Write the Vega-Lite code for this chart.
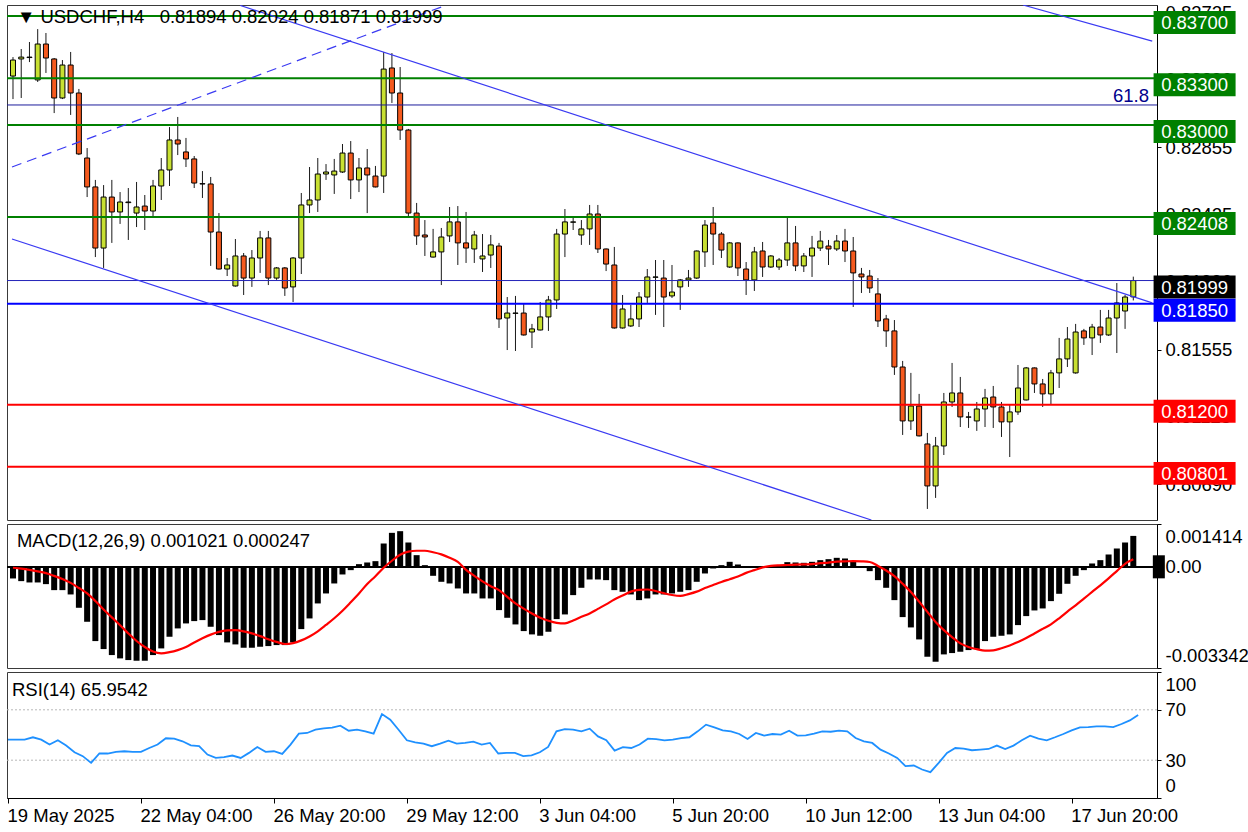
{
"$schema": "https://vega.github.io/schema/vega-lite/v6.json",
"padding": {"left": 3, "top": 2, "right": 0, "bottom": 0},
"background": "white",
"spacing": 2,
"config": {
  "view": {"stroke": "#3a3a3a", "strokeWidth": 1},
  "font": "Liberation Sans",
  "axis": {"labelFont": "Liberation Sans", "labelFontSize": 18.5, "labelColor": "#000000", "domainColor": "#000000", "tickColor": "#000000", "grid": false, "tickSize": 4, "labelPadding": 4, "labelOverlap": false}
},
"datasets": {
"bars": [
{"k":0,"o":0.83314,"h":0.83436,"l":0.83166,"c":0.83417,"m":-0.000385,"s":-0.00003,"r":46.3},
{"k":1,"o":0.83424,"h":0.83488,"l":0.83173,"c":0.83436,"m":-0.000473,"s":-0.00006,"r":46.3},
{"k":2,"o":0.83433,"h":0.83533,"l":0.83404,"c":0.83436,"m":-0.000517,"s":-0.0001,"r":46.3},
{"k":3,"o":0.83289,"h":0.83616,"l":0.83276,"c":0.8352,"m":-0.000517,"s":-0.00015,"r":48.2},
{"k":4,"o":0.8352,"h":0.83591,"l":0.83334,"c":0.8343,"m":-0.000572,"s":-0.00021,"r":46.3},
{"k":5,"o":0.83424,"h":0.8343,"l":0.83076,"c":0.83173,"m":-0.00077,"s":-0.0003,"r":42.4},
{"k":6,"o":0.83173,"h":0.83417,"l":0.83166,"c":0.83385,"m":-0.00077,"s":-0.0004,"r":45.8},
{"k":7,"o":0.83385,"h":0.83469,"l":0.83064,"c":0.83205,"m":-0.000913,"s":-0.00053,"r":41.6},
{"k":8,"o":0.83205,"h":0.83231,"l":0.82806,"c":0.82813,"m":-0.001353,"s":-0.0007,"r":36.3},
{"k":9,"o":0.82787,"h":0.82851,"l":0.82536,"c":0.82601,"m":-0.001815,"s":-0.00088,"r":33.2},
{"k":10,"o":0.82601,"h":0.82646,"l":0.8215,"c":0.82208,"m":-0.002453,"s":-0.00113,"r":27.9},
{"k":11,"o":0.82208,"h":0.82613,"l":0.8208,"c":0.82536,"m":-0.002717,"s":-0.00141,"r":35.3},
{"k":12,"o":0.82536,"h":0.82646,"l":0.82241,"c":0.8244,"m":-0.002915,"s":-0.00167,"r":35.3},
{"k":13,"o":0.8244,"h":0.82568,"l":0.82363,"c":0.82504,"m":-0.003025,"s":-0.00193,"r":36.6},
{"k":14,"o":0.825,"h":0.82594,"l":0.8226,"c":0.82504,"m":-0.00308,"s":-0.0022,"r":37.1},
{"k":15,"o":0.82433,"h":0.82633,"l":0.82343,"c":0.82472,"m":-0.003102,"s":-0.00245,"r":36.6},
{"k":16,"o":0.82478,"h":0.82549,"l":0.82324,"c":0.82446,"m":-0.003102,"s":-0.00265,"r":36.6},
{"k":17,"o":0.82446,"h":0.82646,"l":0.82408,"c":0.82607,"m":-0.002915,"s":-0.0028,"r":39.7},
{"k":18,"o":0.82607,"h":0.82787,"l":0.82517,"c":0.8271,"m":-0.002695,"s":-0.00286,"r":42.4},
{"k":19,"o":0.8271,"h":0.82986,"l":0.82607,"c":0.82903,"m":-0.00231,"s":-0.00282,"r":47.4},
{"k":20,"o":0.82903,"h":0.83051,"l":0.82806,"c":0.82877,"m":-0.002035,"s":-0.00275,"r":47.1},
{"k":21,"o":0.82826,"h":0.82916,"l":0.82729,"c":0.82781,"m":-0.00187,"s":-0.00265,"r":45},
{"k":22,"o":0.82781,"h":0.828,"l":0.82594,"c":0.82626,"m":-0.001793,"s":-0.0025,"r":41.8},
{"k":23,"o":0.82622,"h":0.82703,"l":0.8253,"c":0.8262,"m":-0.00176,"s":-0.00236,"r":41.1},
{"k":24,"o":0.8262,"h":0.82665,"l":0.82093,"c":0.82311,"m":-0.00198,"s":-0.00224,"r":34.5},
{"k":25,"o":0.82311,"h":0.82433,"l":0.8207,"c":0.82073,"m":-0.002255,"s":-0.00215,"r":31.8},
{"k":26,"o":0.82073,"h":0.82144,"l":0.82028,"c":0.82099,"m":-0.002497,"s":-0.0021,"r":32.4},
{"k":27,"o":0.81964,"h":0.82266,"l":0.8196,"c":0.82157,"m":-0.002563,"s":-0.00209,"r":33.7},
{"k":28,"o":0.82157,"h":0.82176,"l":0.81906,"c":0.82015,"m":-0.002673,"s":-0.00213,"r":31.8},
{"k":29,"o":0.82015,"h":0.82195,"l":0.81958,"c":0.82144,"m":-0.002673,"s":-0.0022,"r":35.8},
{"k":30,"o":0.82144,"h":0.82318,"l":0.82048,"c":0.82273,"m":-0.00264,"s":-0.00229,"r":40.5},
{"k":31,"o":0.82273,"h":0.82318,"l":0.8197,"c":0.82015,"m":-0.002618,"s":-0.00239,"r":36.6},
{"k":32,"o":0.82015,"h":0.82086,"l":0.82003,"c":0.8208,"m":-0.002585,"s":-0.00248,"r":37.1},
{"k":33,"o":0.8208,"h":0.82086,"l":0.819,"c":0.81951,"m":-0.002585,"s":-0.00255,"r":35},
{"k":34,"o":0.81958,"h":0.8215,"l":0.81861,"c":0.82144,"m":-0.002497,"s":-0.00252,"r":42.4},
{"k":35,"o":0.82144,"h":0.82562,"l":0.82041,"c":0.82485,"m":-0.002057,"s":-0.00243,"r":51.1},
{"k":36,"o":0.82485,"h":0.82729,"l":0.82433,"c":0.82517,"m":-0.001705,"s":-0.0023,"r":51.6},
{"k":37,"o":0.82517,"h":0.82787,"l":0.8244,"c":0.82684,"m":-0.00121,"s":-0.00213,"r":54.2},
{"k":38,"o":0.82684,"h":0.82748,"l":0.82646,"c":0.82697,"m":-0.00088,"s":-0.00192,"r":55.3},
{"k":39,"o":0.82678,"h":0.82781,"l":0.82556,"c":0.82703,"m":-0.00055,"s":-0.0017,"r":55.8},
{"k":40,"o":0.82697,"h":0.82877,"l":0.82691,"c":0.82819,"m":-0.000253,"s":-0.00145,"r":57.4},
{"k":41,"o":0.82819,"h":0.82896,"l":0.82523,"c":0.82646,"m":-0.00011,"s":-0.00117,"r":53.4},
{"k":42,"o":0.82646,"h":0.82787,"l":0.82568,"c":0.82723,"m":0.000088,"s":-0.00088,"r":54.2},
{"k":43,"o":0.82723,"h":0.82845,"l":0.82433,"c":0.82678,"m":0.000143,"s":-0.00057,"r":52.9},
{"k":44,"o":0.82671,"h":0.82736,"l":0.82598,"c":0.82601,"m":0.000187,"s":-0.00031,"r":51.1},
{"k":45,"o":0.82671,"h":0.83469,"l":0.82562,"c":0.83359,"m":0.00077,"s":-0.00003,"r":66.6},
{"k":46,"o":0.83366,"h":0.83462,"l":0.83141,"c":0.83205,"m":0.001122,"s":0.0002,"r":62.1},
{"k":47,"o":0.83205,"h":0.83372,"l":0.82903,"c":0.82967,"m":0.001177,"s":0.0004,"r":54.2},
{"k":48,"o":0.82967,"h":0.82974,"l":0.82408,"c":0.82433,"m":0.000803,"s":0.0005,"r":45.8},
{"k":49,"o":0.82433,"h":0.82498,"l":0.82228,"c":0.82286,"m":0.000385,"s":0.00053,"r":44.2},
{"k":50,"o":0.82292,"h":0.82388,"l":0.82157,"c":0.82279,"m":0.000055,"s":0.00053,"r":43.2},
{"k":51,"o":0.8215,"h":0.82331,"l":0.82147,"c":0.82183,"m":-0.000297,"s":0.00048,"r":41.1},
{"k":52,"o":0.82183,"h":0.82337,"l":0.8197,"c":0.82279,"m":-0.000495,"s":0.00041,"r":43.2},
{"k":53,"o":0.82286,"h":0.82472,"l":0.82247,"c":0.82376,"m":-0.00055,"s":0.0003,"r":45.5},
{"k":54,"o":0.82376,"h":0.82478,"l":0.82099,"c":0.82241,"m":-0.000715,"s":0.00016,"r":43.2},
{"k":55,"o":0.82241,"h":0.8244,"l":0.82112,"c":0.82208,"m":-0.00088,"s":-0.0001,"r":43.7},
{"k":56,"o":0.82202,"h":0.82318,"l":0.82112,"c":0.82292,"m":-0.00088,"s":-0.0003,"r":44.7},
{"k":57,"o":0.82138,"h":0.82298,"l":0.82054,"c":0.82157,"m":-0.001045,"s":-0.00048,"r":42.4},
{"k":58,"o":0.82163,"h":0.82292,"l":0.8208,"c":0.82228,"m":-0.001045,"s":-0.00064,"r":43.7},
{"k":59,"o":0.82221,"h":0.82241,"l":0.81694,"c":0.81752,"m":-0.00143,"s":-0.00077,"r":35.3},
{"k":60,"o":0.81758,"h":0.81893,"l":0.81552,"c":0.8179,"m":-0.001683,"s":-0.00099,"r":35.8},
{"k":61,"o":0.81788,"h":0.819,"l":0.81546,"c":0.8179,"m":-0.001903,"s":-0.00121,"r":35.8},
{"k":62,"o":0.8179,"h":0.81848,"l":0.81645,"c":0.81649,"m":-0.002123,"s":-0.00138,"r":33.2},
{"k":63,"o":0.81668,"h":0.8172,"l":0.81565,"c":0.81688,"m":-0.002233,"s":-0.00154,"r":33.9},
{"k":64,"o":0.81681,"h":0.81861,"l":0.81678,"c":0.81765,"m":-0.002277,"s":-0.00168,"r":36.3},
{"k":65,"o":0.81765,"h":0.819,"l":0.81675,"c":0.81874,"m":-0.002145,"s":-0.00178,"r":40.5},
{"k":66,"o":0.81874,"h":0.82331,"l":0.81816,"c":0.82298,"m":-0.001727,"s":-0.00185,"r":52.9},
{"k":67,"o":0.82298,"h":0.82459,"l":0.8215,"c":0.82376,"m":-0.001573,"s":-0.00187,"r":54.7},
{"k":68,"o":0.82374,"h":0.82408,"l":0.82324,"c":0.82376,"m":-0.000935,"s":-0.00177,"r":54.2},
{"k":69,"o":0.82292,"h":0.82388,"l":0.82228,"c":0.82331,"m":-0.000693,"s":-0.00165,"r":52.9},
{"k":70,"o":0.82331,"h":0.82485,"l":0.82228,"c":0.82427,"m":-0.000418,"s":-0.00154,"r":55},
{"k":71,"o":0.82427,"h":0.82485,"l":0.82176,"c":0.82202,"m":-0.000418,"s":-0.00139,"r":48.9},
{"k":72,"o":0.82202,"h":0.82205,"l":0.8206,"c":0.82105,"m":-0.00044,"s":-0.00124,"r":45.8},
{"k":73,"o":0.82099,"h":0.82215,"l":0.8169,"c":0.81694,"m":-0.00077,"s":-0.00108,"r":37.6},
{"k":74,"o":0.81694,"h":0.81906,"l":0.8169,"c":0.81816,"m":-0.000825,"s":-0.00095,"r":40.3},
{"k":75,"o":0.81707,"h":0.81842,"l":0.817,"c":0.81752,"m":-0.000913,"s":-0.00082,"r":39.7},
{"k":76,"o":0.81752,"h":0.81925,"l":0.817,"c":0.81893,"m":-0.0011,"s":-0.00076,"r":42.4},
{"k":77,"o":0.81893,"h":0.82073,"l":0.81855,"c":0.82022,"m":-0.001045,"s":-0.00075,"r":47.1},
{"k":78,"o":0.8202,"h":0.82131,"l":0.81778,"c":0.82022,"m":-0.000913,"s":-0.0008,"r":46.8},
{"k":79,"o":0.82015,"h":0.82131,"l":0.817,"c":0.81893,"m":-0.000913,"s":-0.00087,"r":45.8},
{"k":80,"o":0.819,"h":0.82099,"l":0.81887,"c":0.81925,"m":-0.00088,"s":-0.00093,"r":46.3},
{"k":81,"o":0.81958,"h":0.82009,"l":0.8181,"c":0.82003,"m":-0.000825,"s":-0.00096,"r":47.6},
{"k":82,"o":0.82003,"h":0.82067,"l":0.81958,"c":0.82015,"m":-0.00077,"s":-0.0009,"r":48.2},
{"k":83,"o":0.82015,"h":0.82192,"l":0.82009,"c":0.82189,"m":-0.000495,"s":-0.00082,"r":52.9},
{"k":84,"o":0.82183,"h":0.82388,"l":0.82086,"c":0.82356,"m":-0.00022,"s":-0.0007,"r":58.2},
{"k":85,"o":0.82369,"h":0.82472,"l":0.82099,"c":0.82298,"m":-0.000055,"s":-0.0006,"r":56.1},
{"k":86,"o":0.82298,"h":0.82311,"l":0.82144,"c":0.82195,"m":0.000055,"s":-0.0005,"r":53.7},
{"k":87,"o":0.82086,"h":0.82247,"l":0.8208,"c":0.82241,"m":0.000165,"s":-0.00041,"r":52.9},
{"k":88,"o":0.82241,"h":0.82244,"l":0.82028,"c":0.8208,"m":0.000077,"s":-0.00032,"r":50.8},
{"k":89,"o":0.82073,"h":0.82118,"l":0.81906,"c":0.82003,"m":0.00001,"s":-0.0002,"r":46.8},
{"k":90,"o":0.82003,"h":0.82215,"l":0.81932,"c":0.82183,"m":-0.00001,"s":-0.00011,"r":51.6},
{"k":91,"o":0.82189,"h":0.82247,"l":0.82022,"c":0.82086,"m":0.00001,"s":-0.00002,"r":49.5},
{"k":92,"o":0.82086,"h":0.82163,"l":0.8208,"c":0.82157,"m":0.00001,"s":0.00003,"r":50.8},
{"k":93,"o":0.82086,"h":0.82144,"l":0.82067,"c":0.82131,"m":0.000022,"s":0.00005,"r":50.3},
{"k":94,"o":0.82131,"h":0.82408,"l":0.82093,"c":0.82241,"m":0.000154,"s":0.00006,"r":53.4},
{"k":95,"o":0.82241,"h":0.8235,"l":0.8206,"c":0.82093,"m":0.000143,"s":0.00007,"r":49.5},
{"k":96,"o":0.82093,"h":0.82176,"l":0.82054,"c":0.82157,"m":0.000132,"s":0.00008,"r":49.7},
{"k":97,"o":0.82157,"h":0.82286,"l":0.82022,"c":0.82208,"m":0.000165,"s":0.00009,"r":51.1},
{"k":98,"o":0.82208,"h":0.82318,"l":0.82189,"c":0.82253,"m":0.00022,"s":0.00012,"r":52.9},
{"k":99,"o":0.82221,"h":0.8226,"l":0.82099,"c":0.82202,"m":0.000253,"s":0.00014,"r":52.6},
{"k":100,"o":0.82202,"h":0.82292,"l":0.82189,"c":0.82253,"m":0.000297,"s":0.00017,"r":53.4},
{"k":101,"o":0.82253,"h":0.82331,"l":0.82118,"c":0.82189,"m":0.000275,"s":0.00018,"r":52.9},
{"k":102,"o":0.82189,"h":0.82279,"l":0.81829,"c":0.82048,"m":0.000187,"s":0.00019,"r":47.6},
{"k":103,"o":0.82041,"h":0.8208,"l":0.81919,"c":0.82022,"m":0.0,"s":0.00018,"r":45},
{"k":104,"o":0.82028,"h":0.82067,"l":0.81919,"c":0.81951,"m":-0.000143,"s":0.00016,"r":43.7},
{"k":105,"o":0.81913,"h":0.82015,"l":0.817,"c":0.81739,"m":-0.00044,"s":0.00003,"r":38.4},
{"k":106,"o":0.81752,"h":0.81778,"l":0.81572,"c":0.81675,"m":-0.000693,"s":-0.00012,"r":35.3},
{"k":107,"o":0.81675,"h":0.81745,"l":0.81392,"c":0.81443,"m":-0.0011,"s":-0.00031,"r":31.8},
{"k":108,"o":0.81443,"h":0.81482,"l":0.81006,"c":0.81096,"m":-0.001661,"s":-0.00056,"r":25.3},
{"k":109,"o":0.81096,"h":0.81405,"l":0.81038,"c":0.81192,"m":-0.002002,"s":-0.00083,"r":25.8},
{"k":110,"o":0.81192,"h":0.8127,"l":0.80996,"c":0.81,"m":-0.002398,"s":-0.00115,"r":22.6},
{"k":111,"o":0.80948,"h":0.81019,"l":0.8053,"c":0.80678,"m":-0.00297,"s":-0.00149,"r":20.5},
{"k":112,"o":0.80678,"h":0.80993,"l":0.80601,"c":0.80935,"m":-0.003135,"s":-0.00182,"r":27.9},
{"k":113,"o":0.80935,"h":0.81276,"l":0.80877,"c":0.81218,"m":-0.002893,"s":-0.00209,"r":35.8},
{"k":114,"o":0.81218,"h":0.81469,"l":0.81186,"c":0.81276,"m":-0.002849,"s":-0.00232,"r":39.7},
{"k":115,"o":0.81276,"h":0.81379,"l":0.81057,"c":0.81122,"m":-0.002805,"s":-0.00253,"r":39.2},
{"k":116,"o":0.8112,"h":0.81154,"l":0.81051,"c":0.81122,"m":-0.00275,"s":-0.00265,"r":37.9},
{"k":117,"o":0.81096,"h":0.81218,"l":0.81032,"c":0.81173,"m":-0.002717,"s":-0.00272,"r":38.4},
{"k":118,"o":0.81173,"h":0.81302,"l":0.81057,"c":0.81244,"m":-0.002453,"s":-0.00277,"r":38.9},
{"k":119,"o":0.8125,"h":0.81321,"l":0.81051,"c":0.81186,"m":-0.00231,"s":-0.00276,"r":41.6},
{"k":120,"o":0.81186,"h":0.81218,"l":0.80993,"c":0.8109,"m":-0.002277,"s":-0.00269,"r":38.9},
{"k":121,"o":0.8109,"h":0.81199,"l":0.80864,"c":0.81154,"m":-0.002233,"s":-0.0026,"r":41.6},
{"k":122,"o":0.81154,"h":0.81456,"l":0.81135,"c":0.81308,"m":-0.001925,"s":-0.00248,"r":45.8},
{"k":123,"o":0.81231,"h":0.81443,"l":0.81228,"c":0.81437,"m":-0.001628,"s":-0.00235,"r":49.5},
{"k":124,"o":0.81437,"h":0.8144,"l":0.81276,"c":0.81334,"m":-0.001441,"s":-0.0022,"r":47.1},
{"k":125,"o":0.81334,"h":0.81366,"l":0.81186,"c":0.8127,"m":-0.001375,"s":-0.00205,"r":45.8},
{"k":126,"o":0.8127,"h":0.81424,"l":0.81199,"c":0.81405,"m":-0.001133,"s":-0.0019,"r":48.2},
{"k":127,"o":0.81405,"h":0.8163,"l":0.81308,"c":0.81495,"m":-0.000891,"s":-0.0017,"r":50.8},
{"k":128,"o":0.81495,"h":0.817,"l":0.81443,"c":0.81623,"m":-0.000561,"s":-0.00148,"r":53.7},
{"k":129,"o":0.81405,"h":0.8172,"l":0.814,"c":0.81668,"m":-0.000297,"s":-0.00127,"r":56.1},
{"k":130,"o":0.81675,"h":0.81688,"l":0.81585,"c":0.8163,"m":-0.00011,"s":-0.00105,"r":56.3},
{"k":131,"o":0.8163,"h":0.8172,"l":0.8152,"c":0.817,"m":0.00011,"s":-0.00083,"r":56.8},
{"k":132,"o":0.817,"h":0.8181,"l":0.81598,"c":0.81649,"m":0.00022,"s":-0.00061,"r":56.8},
{"k":133,"o":0.81649,"h":0.8181,"l":0.81643,"c":0.81758,"m":0.000407,"s":-0.00038,"r":56.3},
{"k":134,"o":0.81758,"h":0.81983,"l":0.81533,"c":0.81855,"m":0.000605,"s":-0.00014,"r":58.7},
{"k":135,"o":0.81803,"h":0.81906,"l":0.81688,"c":0.81893,"m":0.000803,"s":0.0001,"r":61.6},
{"k":136,"o":0.81894,"h":0.82024,"l":0.81871,"c":0.81999,"m":0.001021,"s":0.000247,"r":65.95}
],
"levels": [
{"p":0.837,"kind":"res","label":"0.83700"},
{"p":0.833,"kind":"res","label":"0.83300"},
{"p":0.83,"kind":"res","label":"0.83000"},
{"p":0.82408,"kind":"res","label":"0.82408"},
{"p":0.81999,"kind":"bid","label":"0.81999"},
{"p":0.8185,"kind":"piv","label":"0.81850"},
{"p":0.812,"kind":"sup","label":"0.81200"},
{"p":0.80801,"kind":"sup","label":"0.80801"}
],
"fib": [{"p":0.83128,"label":"61.8"}],
"trend": [
{"id":"a","style":"solid","k":27.6,"p":0.83768},
{"id":"a","style":"solid","k":138.3,"p":0.81855},
{"id":"b","style":"solid","k":122.6,"p":0.83771},
{"id":"b","style":"solid","k":138.3,"p":0.83539},
{"id":"c","style":"solid","k":-0.12,"p":0.82266},
{"id":"c","style":"solid","k":104.2,"p":0.80459},
{"id":"d","style":"dashed","k":-0.12,"p":0.82729},
{"id":"d","style":"dashed","k":52.6,"p":0.8377}
],
"rsilevels": [{"lv":70},{"lv":30}],
"zeromark": [{"k":139.1,"v":0}],
"captions": [
{"panel":"price","k":0.48,"v":0.83694,"t":"▼ USDCHF,H4\u00a0\u00a0 0.81894 0.82024 0.81871 0.81999"},
{"panel":"macd","k":0.48,"v":0.000853,"t":"MACD(12,26,9) 0.001021 0.000247"},
{"panel":"rsi","k":0.48,"v":85.7,"t":"RSI(14) 65.9542"}
]
},
"vconcat": [
{
  "width": 1150, "height": 515,
  "layer": [
    {"data": {"name": "bars"}, "mark": {"type": "rule", "color": "#1a1a1a", "strokeWidth": 1},
     "encoding": {
       "x": {"field": "k", "type": "quantitative", "scale": {"domain": [-0.12, 138.27], "nice": false, "zero": false}, "axis": null},
       "y": {"field": "l", "type": "quantitative", "title": null, "scale": {"domain": [0.80459, 0.83771], "nice": false, "zero": false},
             "axis": {"orient": "right", "values": [0.8069, 0.81125, 0.81555, 0.8199, 0.82425, 0.82855, 0.8329, 0.83725], "labelExpr": "format(datum.value, '.5f')"}},
       "y2": {"field": "h"}}},
    {"data": {"name": "bars"}, "mark": {"type": "bar", "width": 5, "stroke": "#000000", "strokeWidth": 1},
     "encoding": {
       "x": {"field": "k", "type": "quantitative"},
       "y": {"field": "o", "type": "quantitative"},
       "y2": {"field": "c"},
       "fill": {"condition": {"test": "datum.c >= datum.o", "value": "#c8e032"}, "value": "#f55a1e"}}},
    {"data": {"name": "levels"}, "transform": [{"filter": "datum.kind != 'bid'"}], "mark": {"type": "rule", "strokeWidth": 2},
     "encoding": {
       "y": {"field": "p", "type": "quantitative"},
       "stroke": {"field": "kind", "type": "nominal", "scale": {"domain": ["res", "bid", "piv", "sup"], "range": ["#008000", "#1c1ca8", "#0000ff", "#ff0000"]}, "legend": null}}},
    {"data": {"name": "levels"}, "transform": [{"filter": "datum.kind == 'bid'"}], "mark": {"type": "rule", "strokeWidth": 1, "color": "#2323b8"},
     "encoding": {"y": {"field": "p", "type": "quantitative"}}},
    {"data": {"name": "fib"}, "mark": {"type": "rule", "strokeWidth": 1, "color": "#1c1c9c"},
     "encoding": {"y": {"field": "p", "type": "quantitative"}}},
    {"data": {"name": "fib"}, "mark": {"type": "text", "color": "#00008b", "align": "right", "baseline": "alphabetic", "dy": -3, "fontSize": 18.5, "font": "Liberation Sans"},
     "encoding": {"x": {"datum": 137.9, "type": "quantitative"}, "y": {"field": "p", "type": "quantitative"}, "text": {"field": "label"}}},
    {"data": {"name": "trend"}, "transform": [{"filter": "datum.style == 'solid'"}], "mark": {"type": "line", "clip": true, "strokeWidth": 1.2, "color": "#3a3af2"},
     "encoding": {
       "x": {"field": "k", "type": "quantitative"},
       "y": {"field": "p", "type": "quantitative"},
       "detail": {"field": "id", "type": "nominal"}}},
    {"data": {"name": "trend"}, "transform": [{"filter": "datum.style == 'dashed'"}], "mark": {"type": "line", "clip": true, "strokeWidth": 1.2, "color": "#3a3af2", "strokeDash": [10, 6]},
     "encoding": {
       "x": {"field": "k", "type": "quantitative"},
       "y": {"field": "p", "type": "quantitative"}}},
    {"data": {"name": "levels"}, "mark": {"type": "point", "shape": "M-1,-0.12L1,-0.12L1,0.44L-1,0.44Z", "size": 6724, "filled": true, "opacity": 1, "strokeWidth": 0},
     "encoding": {
       "x": {"datum": 143.44, "type": "quantitative"},
       "y": {"field": "p", "type": "quantitative"},
       "fill": {"field": "kind", "type": "nominal", "scale": {"domain": ["res", "bid", "piv", "sup"], "range": ["#008000", "#000000", "#0000ff", "#ff0000"]}, "legend": null}}},
    {"data": {"name": "levels"}, "mark": {"type": "text", "color": "#ffffff", "align": "center", "baseline": "middle", "dy": 7, "fontSize": 18.5, "font": "Liberation Sans"},
     "encoding": {
       "x": {"datum": 143.44, "type": "quantitative"},
       "y": {"field": "p", "type": "quantitative"},
       "text": {"field": "label", "type": "nominal"}}},
    {"data": {"name": "captions"}, "transform": [{"filter": "datum.panel == 'price'"}], "mark": {"type": "text", "color": "#000000", "align": "left", "baseline": "middle", "fontSize": 18.5, "font": "Liberation Sans"},
     "encoding": {
       "x": {"field": "k", "type": "quantitative"},
       "y": {"field": "v", "type": "quantitative"},
       "text": {"field": "t", "type": "nominal"}}}
  ]
},
{
  "width": 1150, "height": 144,
  "layer": [
    {"data": {"name": "bars"}, "mark": {"type": "bar", "width": 6, "color": "#000000"},
     "encoding": {
       "x": {"field": "k", "type": "quantitative", "scale": {"domain": [-0.12, 138.27], "nice": false, "zero": false}, "axis": null},
       "y": {"field": "m", "type": "quantitative", "title": null, "scale": {"domain": [-0.003342, 0.001414], "nice": false, "zero": false},
             "axis": {"orient": "right", "values": [0.001414, 0, -0.003342], "labelFlush": true, "labelFlushOffset": -3,
                      "labelExpr": "datum.value > 0.001 ? '0.001414' : (datum.value < -0.001 ? '-0.003342' : '0.00')"}},
       "y2": {"datum": 0}}},
    {"data": {"name": "bars"}, "mark": {"type": "rule", "color": "#000000", "strokeWidth": 1.5},
     "encoding": {"y": {"datum": 0, "type": "quantitative"}}},
    {"data": {"name": "bars"}, "mark": {"type": "line", "color": "#ff0000", "strokeWidth": 2.2, "interpolate": "monotone"},
     "encoding": {
       "x": {"field": "k", "type": "quantitative"},
       "y": {"field": "s", "type": "quantitative"}}},
    {"data": {"name": "zeromark"}, "mark": {"type": "point", "shape": "M-0.5,-0.96L0.5,-0.96L0.5,0.96L-0.5,0.96Z", "size": 576, "filled": true, "opacity": 1, "strokeWidth": 0, "color": "#000000"},
     "encoding": {
       "x": {"field": "k", "type": "quantitative"},
       "y": {"field": "v", "type": "quantitative"}}},
    {"data": {"name": "captions"}, "transform": [{"filter": "datum.panel == 'macd'"}], "mark": {"type": "text", "color": "#000000", "align": "left", "baseline": "middle", "fontSize": 18.5, "font": "Liberation Sans"},
     "encoding": {
       "x": {"field": "k", "type": "quantitative"},
       "y": {"field": "v", "type": "quantitative"},
       "text": {"field": "t", "type": "nominal"}}}
  ]
},
{
  "width": 1150, "height": 126,
  "layer": [
    {"data": {"name": "rsilevels"}, "mark": {"type": "rule", "color": "#b8b8b8", "strokeWidth": 1, "strokeDash": [2, 2]},
     "encoding": {"y": {"field": "lv", "type": "quantitative", "title": null, "scale": {"domain": [0, 100], "nice": false, "zero": false},
       "axis": {"orient": "right", "values": [0, 30, 70, 100], "labelFlush": true, "labelFlushOffset": -3}}}},
    {"data": {"name": "bars"}, "mark": {"type": "line", "color": "#1e90ff", "strokeWidth": 1.8},
     "encoding": {
       "x": {"field": "k", "type": "quantitative", "title": null, "scale": {"domain": [-0.12, 138.27], "nice": false, "zero": false},
             "axis": {"orient": "bottom", "values": [0, 16, 32, 48, 64, 80, 96, 112, 128], "tickSize": 5, "labelAlign": "left", "labelOffset": -1, "labelPadding": 3, "labelFlush": false,
                      "labelExpr": "['19 May 2025','22 May 04:00','26 May 20:00','29 May 12:00','3 Jun 04:00','5 Jun 20:00','10 Jun 12:00','13 Jun 04:00','17 Jun 20:00'][round(datum.value/16)]"}},
       "y": {"field": "r", "type": "quantitative"}}},
    {"data": {"name": "captions"}, "transform": [{"filter": "datum.panel == 'rsi'"}], "mark": {"type": "text", "color": "#000000", "align": "left", "baseline": "middle", "fontSize": 18.5, "font": "Liberation Sans"},
     "encoding": {
       "x": {"field": "k", "type": "quantitative"},
       "y": {"field": "v", "type": "quantitative"},
       "text": {"field": "t", "type": "nominal"}}}
  ]
}
]
}
